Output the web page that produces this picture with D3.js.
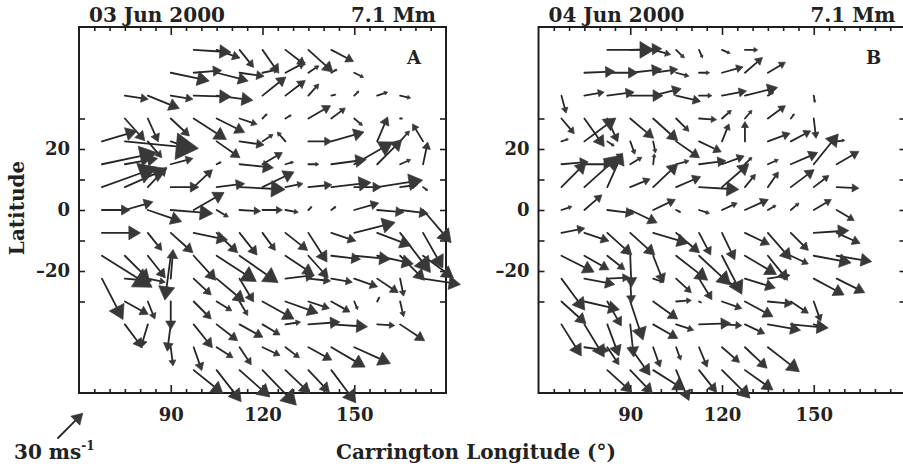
<!DOCTYPE html>
<html>
<head>
<meta charset="utf-8">
<script src="https://cdn.jsdelivr.net/npm/d3@7"></script>
<style>
  body { margin: 0; background: #fff; }
  svg { display: block; }
</style>
</head>
<body>
<div id="chart"></div>
<script>
// grid of the flow maps (degrees)
const lons = [67.5, 75, 82.5, 90, 97.5, 105, 112.5, 120, 127.5, 135, 142.5, 150, 157.5, 165, 172.5];
const lats = [52.5, 45, 37.5, 30, 22.5, 15, 7.5, 0, -7.5, -15, -22.5, -30, -37.5, -45, -52.5];

// 03 Jun 2000, zonal / meridional flow (m/s), rows from north to south
const uA = [
  [null, null, null, null, 32, 20, 12, 14, 17, 21, 19, null, null, null, null],
  [null, null, null, 33, 24, 27, 21, 14, 17, 9, 5, 8, null, null, null],
  [null, 20, 27, 19, 32, 31, null, 20, 17, 9, 4, 4, 9, 9, null],
  [null, 17, 9, 16, 28, 24, 15, 4, 5, 19, 12, 7, null, 2, null],
  [30, 63, 12, 9, null, 20, 21, 9, -7, 20, 28, null, 9, 8, -9],
  [47, 28, null, 19, null, 4, 29, 17, 7, 9, 30, 33, 21, 9, 4],
  [47, 36, 16, 24, 16, 24, 39, 27, 15, 20, 34, 23, 39, 15, 4],
  [24, 24, 29, 36, 26, 10, 18, 17, 11, 3, 4, 21, 23, 24, 24],
  [33, null, 12, 19, 29, 18, 15, 11, 19, 16, 21, 35, 29, 26, 17],
  [43, 21, 15, -5, 19, 34, 33, null, 24, 17, 25, 31, 31, 21, 26],
  [18, 23, 15, 2, 15, 24, 12, null, 25, 19, 18, 20, 18, 3, 32],
  [null, 20, 6, 0, 15, 13, 7, 27, 28, 18, 16, 3, 2, 3, null],
  [null, 15, -6, -3, 16, 18, 20, 15, 13, 27, 31, null, 15, 21, null],
  [null, null, null, 2, 7, 14, 10, 15, 12, 20, 29, 31, null, null, null],
  [null, null, null, null, 25, 21, 26, 29, 21, 18, 21, null, null, null, null]
];
const vA = [
  [null, null, null, null, -2, -7, -15, -20, -13, -19, -10, null, null, null, null],
  [null, null, null, -7, 2, -7, -3, 3, 9, 6, 3, -4, null, null, null],
  [null, -3, -11, -3, -1, -4, null, 16, 13, 10, 1, 4, 3, -2, null],
  [null, -19, -20, -15, -18, -12, -5, 4, 3, 11, 9, -6, null, 0, null],
  [9, -6, -14, -3, null, -14, -3, 6, 8, 0, 8, null, 21, 9, 15],
  [10, 5, null, 5, null, 2, -3, 10, 2, 0, 4, 19, 21, 4, 19],
  [17, 16, 17, 0, 15, 3, -2, 13, 3, 2, 4, 0, 6, 2, -3],
  [0, 7, -10, -3, 15, -6, -1, 0, -2, 3, 3, 6, -2, -3, -28],
  [0, null, -15, -17, -6, -17, -19, -15, -15, -25, -7, 9, -11, -34, -30],
  [-27, -21, -19, -38, -21, -22, -23, null, -16, -19, -3, -3, -7, -21, -19],
  [-35, -2, -3, 25, -14, -20, -20, null, 3, -2, -3, -7, -12, -15, -5],
  [null, -11, -15, -24, -15, -8, -12, -15, -10, -6, -9, -7, 4, -13, null],
  [null, -20, -20, -23, -20, -14, -11, -9, 2, 2, -2, null, -1, -14, null],
  [null, null, null, -16, -20, -9, -15, -7, -9, -11, -17, -14, null, null, null],
  [null, null, null, null, -20, -27, -23, -30, -20, -19, -28, null, null, null, null]
];

// 04 Jun 2000
const uB = [
  [null, null, 40, 27, 15, 7, 3, 7, 11, null, null, null, null, null, null],
  [null, 26, 26, 27, 21, 11, 9, 18, 15, 15, null, null, null, null, null],
  [4, 17, 23, 28, 24, 21, 11, 21, 28, 5, null, 1, null, null, null],
  [11, 17, 9, 20, 21, 11, 15, 8, 6, 15, 3, 2, null, null, null],
  [6, 27, 6, 4, 2, 20, 19, 6, 0, 19, 17, null, 7, null, null],
  [23, 24, 13, 10, 1, 11, 23, 19, 6, 9, 23, 21, 19, null, null],
  [21, 30, 13, 17, 21, 21, 34, 23, 9, 9, 20, 13, 19, null, null],
  [9, 15, 23, 23, 19, 4, 9, 13, 20, 7, 7, 15, 15, null, null],
  [20, 21, 21, 21, 30, 20, 10, 11, 21, 20, 15, 30, 20, null, null],
  [28, 21, 15, 1, 9, 27, 27, 17, 27, 17, 15, 32, 30, null, null],
  [20, 26, 19, 1, 9, 13, 11, 13, 26, 19, null, 26, 24, null, null],
  [21, 30, 12, 11, 21, 13, 2, 17, 24, 21, 15, 6, null, null, null],
  [17, 17, 10, 3, 21, 15, 27, 17, 17, 28, 32, 11, null, null, null],
  [null, 21, 10, 17, 6, 4, 7, 15, 19, 27, null, null, null, null, null],
  [null, null, 21, 19, 27, 11, 15, 24, 24, null, null, null, null, null, null]
];
const vB = [
  [null, null, 0, 1, -4, -7, -7, -3, 0, null, null, null, null, null, null],
  [null, 1, 0, 3, 3, -3, 0, 5, 13, 9, null, null, null, null, null],
  [-15, 3, 3, 0, 6, -5, 0, 4, 7, 3, null, -6, null, null, null],
  [-13, -24, -20, -17, -19, -11, -1, 7, 7, 11, 4, -17, null, null, null],
  [2, 20, -4, -11, -10, -14, -9, 15, 17, 7, 9, null, 1, null, null],
  [2, 0, 9, 6, 9, 3, 3, 7, 6, 4, 10, 26, 11, null, null],
  [21, 27, 29, 7, 20, 9, -2, 20, 11, 13, 15, 10, -1, null, null],
  [3, 13, -3, -11, 9, -2, -3, 6, 9, 4, 6, 9, -9, null, null],
  [4, -7, -19, -19, -9, -17, -19, -23, -10, -23, -15, 2, -9, null, null],
  [-14, -12, -12, -27, -23, -21, -25, -33, -16, -21, -7, -6, -5, null, null],
  [-27, -5, 1, -21, -3, -12, -18, -7, -8, 3, null, -14, -12, null, null],
  [-19, -7, -21, -33, -15, 1, -1, -6, -13, -2, -10, -17, null, null, null],
  [-27, -28, -27, -28, -12, -5, 1, -1, -8, -5, -3, -3, null, null, null],
  [null, -3, -15, -24, -17, -11, -17, -13, -18, -21, null, null, null, null, null],
  [null, null, -19, -20, -17, -26, -19, -24, -17, null, null, null, null, null, null]
];

const xMajor = [90, 120, 150];
const yTickVals = [-30, -20, -10, 0, 10, 20, 30];
const yLabelled = [-20, 0, 20];
const refSpeed = 30;

const panels = [
  { date: "03 Jun 2000", depth: "7.1 Mm", letter: "A", u: uA, v: vA, left: 79 },
  { date: "04 Jun 2000", depth: "7.1 Mm", letter: "B", u: uB, v: vB, left: 538.5 }
];

const W = 903, H = 466;
const plotTop = 27, plotBottom = 393, pw = 367;
const ink = "#222";

const svg = d3.select("#chart").append("svg")
  .attr("width", W)
  .attr("height", H)
  .attr("font-family", "'DejaVu Serif', serif")
  .attr("font-weight", "bold")
  .attr("fill", ink);

const y = d3.scaleLinear().domain([-60, 60]).range([plotBottom, plotTop]);
const speed = d3.scaleLinear().domain([0, 30]).range([0, 35]);

function arrowParts(x0, y0, dx, dy) {
  const len = Math.hypot(dx, dy);
  const ux = dx / len, uy = dy / len;
  const hl = 0.3 * len, hw = 0.6 * hl;
  const x1 = x0 + dx, y1 = y0 + dy;
  const bx = x1 - ux * hl, by = y1 - uy * hl;
  return {
    x0, y0, bx, by,
    head: [[x1, y1], [bx - uy * hw, by + ux * hw], [bx + uy * hw, by - ux * hw]]
  };
}

function drawArrows(g, list) {
  g.selectAll("line.shaft").data(list).join("line")
    .attr("class", "shaft")
    .attr("x1", d => d.x0).attr("y1", d => d.y0)
    .attr("x2", d => d.bx).attr("y2", d => d.by)
    .attr("stroke", "#262626")
    .attr("stroke-width", 1.8)
    .attr("stroke-linecap", "round");
  g.selectAll("path.head").data(list).join("path")
    .attr("class", "head")
    .attr("d", d => "M" + d.head.map(p => p.join(",")).join("L") + "Z")
    .attr("fill", "#383838")
    .attr("stroke", "#383838")
    .attr("stroke-width", 0.7)
    .attr("stroke-linejoin", "round");
}

panels.forEach(p => {
  const x = d3.scaleLinear().domain([60, 180]).range([p.left, p.left + pw]);
  const g = svg.append("g");

  // frame
  g.append("rect")
    .attr("x", p.left).attr("y", plotTop)
    .attr("width", pw).attr("height", plotBottom - plotTop)
    .attr("fill", "none").attr("stroke", "#1e1e1e").attr("stroke-width", 2);

  const minor = d3.range(65, 180, 5).filter(t => !xMajor.includes(t));
  const styleAxis = sel => {
    sel.select(".domain").remove();
    sel.selectAll("line").attr("stroke", "#1e1e1e").attr("stroke-width", 1.6);
    sel.selectAll("text")
      .attr("fill", ink)
      .attr("font-family", "'DejaVu Serif', serif")
      .attr("font-weight", "bold")
      .attr("font-size", 18);
  };

  // bottom / top ticks (inward)
  g.append("g").attr("transform", `translate(0,${plotBottom})`)
    .call(d3.axisBottom(x).tickValues(minor).tickSize(-4).tickFormat(""))
    .call(styleAxis);
  g.append("g").attr("transform", `translate(0,${plotBottom})`)
    .call(d3.axisBottom(x).tickValues(xMajor).tickSize(-8).tickPadding(15).tickFormat(d3.format("d")))
    .call(styleAxis);
  g.append("g").attr("transform", `translate(0,${plotTop})`)
    .call(d3.axisTop(x).tickValues(minor).tickSize(-4).tickFormat(""))
    .call(styleAxis);
  g.append("g").attr("transform", `translate(0,${plotTop})`)
    .call(d3.axisTop(x).tickValues(xMajor).tickSize(-8).tickFormat(""))
    .call(styleAxis);

  // left / right ticks
  g.append("g").attr("transform", `translate(${p.left},0)`)
    .call(d3.axisLeft(y).tickValues(yTickVals).tickSize(-6).tickPadding(9)
      .tickFormat(d => yLabelled.includes(d) ? d3.format("d")(d).replace("\u2212", "\u2013") : ""))
    .call(styleAxis);
  g.append("g").attr("transform", `translate(${p.left + pw},0)`)
    .call(d3.axisRight(y).tickValues(yTickVals).tickSize(-6).tickFormat(""))
    .call(styleAxis);

  // titles
  g.append("text").attr("x", p.left + 10).attr("y", 22)
    .attr("font-size", 20).text(p.date);
  g.append("text").attr("x", p.left + 357).attr("y", 22)
    .attr("text-anchor", "end").attr("font-size", 20).text(p.depth);
  g.append("text").attr("x", p.left + 335).attr("y", 64)
    .attr("text-anchor", "middle").attr("font-size", 18).text(p.letter);

  // vectors
  const list = [];
  lats.forEach((lat, j) => {
    lons.forEach((lon, i) => {
      const u = p.u[j][i], v = p.v[j][i];
      if (u === null || v === null) return;
      if (u === 0 && v === 0) return;
      list.push(arrowParts(x(lon), y(lat), speed(u), -speed(v)));
    });
  });
  drawArrows(g.append("g"), list);
});

// axis titles
svg.append("text")
  .attr("transform", "translate(24,208) rotate(-90)")
  .attr("text-anchor", "middle")
  .attr("font-size", 20)
  .text("Latitude");

svg.append("text")
  .attr("x", 476).attr("y", 459)
  .attr("text-anchor", "middle")
  .attr("font-size", 20)
  .text("Carrington Longitude (\u00b0)");

// reference vector
const refComp = speed(refSpeed / Math.SQRT2);
drawArrows(svg.append("g"), [arrowParts(58, 438, refComp, -refComp)]);
const ref = svg.append("text").attr("x", 14).attr("y", 459).attr("font-size", 20);
ref.append("tspan").text("30 ms");
ref.append("tspan").attr("dy", -9).attr("font-size", 12).text("-1");
</script>
</body>
</html>
